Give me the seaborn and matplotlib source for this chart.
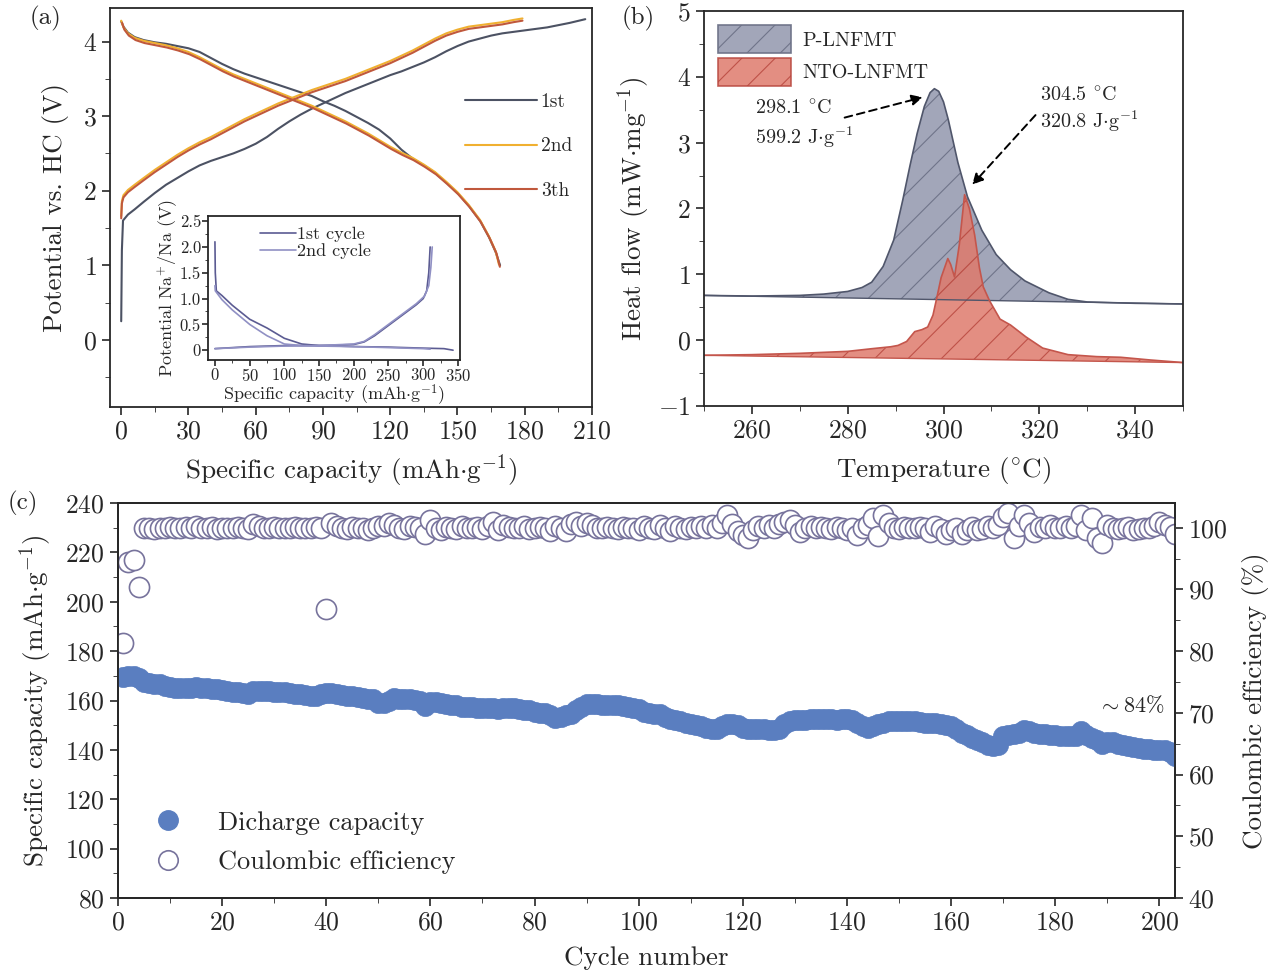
import numpy as np
import pandas as pd
import matplotlib
matplotlib.use("Agg")
import matplotlib.pyplot as plt
import matplotlib.patches as mpatches
from matplotlib.lines import Line2D
from matplotlib.ticker import MultipleLocator
import seaborn as sns

# ---------------- data: panel (a) charge / discharge ----------------
chg1_x = [0, 0.3, 0.8, 3, 6, 10, 15, 20, 25, 30, 35, 40, 45, 50, 55, 60, 65, 70, 75, 80, 85, 90, 95,
          100, 105, 110, 115, 120, 125, 130, 135, 140, 145, 150, 155, 160, 165, 170, 175, 180, 185,
          190, 195, 200, 207]
chg1_y = [0.25, 1.2, 1.6, 1.68, 1.75, 1.85, 1.97, 2.08, 2.17, 2.26, 2.34, 2.4, 2.45, 2.5, 2.56, 2.63,
          2.72, 2.83, 2.93, 3.02, 3.1, 3.17, 3.24, 3.31, 3.37, 3.43, 3.49, 3.55, 3.6, 3.66, 3.72,
          3.79, 3.87, 3.94, 4.0, 4.04, 4.08, 4.11, 4.13, 4.15, 4.17, 4.19, 4.22, 4.25, 4.3]
dis1_x = [0, 1, 3, 6, 10, 15, 20, 25, 30, 35, 40, 45, 50, 55, 60, 65, 70, 75, 80, 85, 90, 95, 100,
          105, 110, 115, 120, 125, 130, 135, 140, 145, 150, 155, 160, 164, 167, 169]
dis1_y = [4.27, 4.2, 4.12, 4.06, 4.02, 3.99, 3.97, 3.94, 3.91, 3.86, 3.78, 3.7, 3.63, 3.57, 3.52,
          3.47, 3.42, 3.37, 3.32, 3.27, 3.2, 3.14, 3.07, 2.99, 2.91, 2.82, 2.7, 2.55, 2.43, 2.34,
          2.24, 2.11, 1.97, 1.8, 1.6, 1.38, 1.18, 1.0]
chg2_x = [0, 0.3, 1, 3, 6, 10, 15, 20, 25, 30, 35, 40, 45, 50, 55, 60, 65, 70, 75, 80, 85, 90, 95,
          100, 105, 110, 115, 120, 125, 130, 135, 140, 145, 150, 155, 160, 165, 170, 175, 179]
chg2_y = [1.65, 1.85, 1.93, 2.0, 2.07, 2.16, 2.27, 2.37, 2.47, 2.56, 2.64, 2.71, 2.79, 2.87, 2.95,
          3.02, 3.09, 3.16, 3.22, 3.28, 3.34, 3.39, 3.44, 3.49, 3.55, 3.61, 3.67, 3.73, 3.8,
          3.87, 3.95, 4.03, 4.1, 4.15, 4.19, 4.21, 4.23, 4.25, 4.28, 4.3]
dis2_x = [0, 1, 3, 6, 10, 15, 20, 25, 30, 35, 40, 45, 50, 55, 60, 65, 70, 75, 80, 85, 90, 95, 100,
          105, 110, 115, 120, 125, 130, 135, 140, 145, 150, 155, 160, 164, 167, 168.5]
dis2_y = [4.27, 4.18, 4.1, 4.04, 4.0, 3.97, 3.94, 3.9, 3.85, 3.78, 3.7, 3.62, 3.55, 3.49, 3.43,
          3.37, 3.31, 3.25, 3.19, 3.13, 3.06, 2.99, 2.92, 2.84, 2.76, 2.67, 2.58, 2.5, 2.43, 2.34,
          2.24, 2.11, 1.97, 1.8, 1.6, 1.38, 1.18, 1.0]
cycle_labels = ["1st", "2nd", "3th"]
cycle_colors = ["#4c5263", "#f0b030", "#c0583c"]

# inset: half cell vs Na
ins_d1_x = [0, 0.5, 2, 10, 25, 50, 75, 100, 125, 150, 200, 250, 300, 330, 343]
ins_d1_y = [2.1, 1.5, 1.15, 1.06, 0.87, 0.6, 0.43, 0.23, 0.12, 0.09, 0.07, 0.06, 0.04, 0.03, 0.0]
ins_c1_x = [0, 50, 100, 150, 200, 215, 230, 250, 270, 290, 300, 305, 308, 310]
ins_c1_y = [0.03, 0.07, 0.09, 0.09, 0.11, 0.16, 0.28, 0.48, 0.68, 0.88, 1.0, 1.15, 1.5, 2.0]
ins_d2_x = [0, 0.5, 10, 25, 50, 75, 100, 125, 150, 200, 250, 300, 310]
ins_d2_y = [1.25, 1.15, 0.98, 0.78, 0.5, 0.28, 0.12, 0.09, 0.08, 0.07, 0.05, 0.03, 0.02]
ins_c2_x = [0, 50, 100, 150, 200, 215, 230, 250, 270, 290, 302, 308, 311, 313]
ins_c2_y = [0.03, 0.06, 0.08, 0.09, 0.12, 0.17, 0.3, 0.5, 0.7, 0.9, 1.05, 1.25, 1.6, 2.0]

# ---------------- data: panel (b) DSC ----------------
p_T = [250, 260, 270, 275, 280, 283, 285, 287.4, 289.6, 291.5, 293, 294.5, 296, 297.2, 298.1,
       299, 300, 301, 303, 305, 308, 311, 314, 317, 322, 326, 330, 340, 350]
p_H = [0.68, 0.67, 0.68, 0.7, 0.74, 0.8, 0.88, 1.12, 1.52, 2.13, 2.65, 3.14, 3.55, 3.76, 3.82,
       3.78, 3.62, 3.35, 2.7, 2.18, 1.67, 1.3, 1.07, 0.9, 0.72, 0.62, 0.58, 0.56, 0.55]
p_base_T = [250, 350]
p_base_H = [0.68, 0.55]
n_T = [250, 260, 270, 280, 285, 289, 290.5, 292.3, 294, 295.5, 296.7, 297.8, 298.5, 299.5, 300.9,
       301.5, 302.3, 303.3, 304.4, 305.4, 306.5, 307.5, 308.3, 309.6, 311.8, 314, 317.2, 320.7,
       326, 332, 337, 343, 350]
n_H = [-0.23, -0.22, -0.2, -0.17, -0.13, -0.1, -0.08, -0.02, 0.13, 0.16, 0.2, 0.38, 0.61, 0.95,
       1.24, 1.15, 0.96, 1.45, 2.21, 2.0, 1.6, 1.1, 0.81, 0.6, 0.32, 0.23, 0.05, -0.12, -0.22,
       -0.25, -0.26, -0.3, -0.34]
n_base_T = [250, 350]
n_base_H = [-0.23, -0.34]
dsc_labels = ["P-LNFMT", "NTO-LNFMT"]

# ---------------- data: panel (c) cycling ----------------
cap = [169.5, 170, 170, 169, 167.5, 167, 166.8, 166.5, 166, 165.5,
       165.2, 165, 165, 165.2, 165.3, 165.2, 165, 164.8, 164.5, 164.2,
       164, 163.6, 163.3, 163, 162.8, 164, 164, 164, 163.8, 163.6,
       163.5, 163.3, 163, 162.8, 162.5, 162.3, 162, 162, 162.5, 163,
       163, 162.6, 162.3, 162, 161.8, 161.5, 161, 160.8, 160.8, 159,
       159, 160, 161, 160.8, 160.5, 160.5, 160.2, 160, 157.8, 159.5,
       159.5, 159, 158.5, 158, 158, 157.5, 157.5, 157.3, 157, 157,
       156.8, 157, 156.5, 157, 156.8, 156.8, 156.5, 156.3, 156, 155.5,
       155, 154.8, 154, 153, 153.5, 154, 154.5, 156, 157.5, 158.5,
       158.5, 158.5, 158.3, 158.3, 158.2, 158, 157.8, 157.5, 157, 156.5,
       155.5, 155, 154.5, 154.5, 153.5, 152.5, 152, 151.5, 151, 150.5,
       150, 149.5, 149, 148.5, 148.5, 149.5, 150.5, 150.5, 150, 149,
       148.5, 148.5, 148.5, 148.3, 148, 148, 148.5, 150.5, 151.5, 152,
       152, 152.3, 152.5, 152.5, 152.5, 152.5, 152.5, 152.3, 152.5, 152.5,
       152, 151, 149.5, 149, 149.5, 150.5, 151, 151.5, 151.5, 151.5,
       151.5, 151.5, 151.5, 151.2, 151, 151, 151, 150.5, 150, 149.5,
       148.5, 147, 146, 145, 144, 143, 142, 141.5, 142, 145.5,
       146, 146.5, 147, 148, 147.5, 147, 146.5, 146.3, 146, 146,
       145.8, 145.8, 145.5, 145.5, 147.5, 146, 145, 144, 142.5, 143,
       143, 142.5, 142, 141.5, 141, 140.8, 140.5, 140.2, 140, 140,
       140, 139, 137.5]
ce = [81.3, 94.4, 94.8, 90.4, 99.9, 100.0, 99.8, 100.0, 99.9, 100.1,
      100.0, 99.9, 100.1, 100.0, 100.2, 99.9, 100.0, 100.1, 99.8, 100.0,
      99.9, 100.0, 100.1, 100.0, 99.8, 100.6, 100.2, 100.0, 99.9, 100.1,
      100.0, 99.9, 100.0, 100.1, 100.0, 99.9, 100.0, 100.1, 100.0, 86.8,
      100.8, 100.2, 100.0, 99.8, 100.1, 100.0, 99.9, 99.6, 100.0, 100.3,
      100.2, 100.7, 100.4, 100.0, 99.8, 100.3, 100.1, 100.0, 99.0, 101.2,
      100.0, 99.6, 100.1, 100.0, 99.8, 100.2, 100.0, 99.9, 100.1, 99.8,
      100.2, 100.9, 99.7, 100.4, 100.1, 99.9, 100.0, 100.2, 99.8, 100.0,
      100.1, 99.9, 99.5, 100.3, 100.0, 99.4, 100.6, 101.0, 100.3, 100.8,
      100.4, 100.0, 99.9, 100.1, 100.0, 99.8, 100.1, 99.9, 100.0, 99.6,
      100.2, 100.0, 99.8, 100.4, 99.9, 99.4, 100.3, 100.0, 99.8, 100.1,
      100.0, 100.2, 99.9, 100.4, 100.0, 100.8, 102.0, 100.6, 99.4, 98.8,
      98.4, 99.6, 100.3, 99.9, 100.5, 100.0, 100.6, 101.0, 101.2, 100.4,
      99.3, 100.0, 100.2, 99.9, 100.1, 100.0, 99.8, 100.1, 100.0, 99.6,
      99.9, 98.8, 100.0, 100.5, 101.6, 98.7, 102.0, 100.8, 100.0, 99.8,
      100.1, 100.0, 99.9, 100.1, 100.0, 99.3, 100.2, 99.8, 98.9, 99.6,
      100.0, 98.9, 99.7, 100.1, 99.6, 99.8, 100.3, 100.0, 100.5, 101.8,
      102.3, 98.4, 100.2, 102.0, 100.8, 99.3, 100.1, 99.9, 100.4, 100.0,
      99.9, 100.3, 100.0, 100.2, 102.0, 99.6, 101.5, 98.3, 97.6, 100.4,
      100.0, 99.8, 100.0, 100.1, 99.7, 99.8, 100.0, 99.9, 100.2, 100.9,
      100.4, 100.1, 99.0]
cycles = list(range(1, len(cap) + 1))

# ---------------- style ----------------
sns.set_style("ticks")
plt.rcParams['font.family'] = ['cmr10', 'DejaVu Serif']
plt.rcParams['mathtext.fontset'] = 'cm'
plt.rcParams['axes.formatter.use_mathtext'] = True
plt.rcParams['axes.unicode_minus'] = True
plt.rcParams['axes.linewidth'] = 1.3
plt.rcParams['xtick.major.size'] = 6
plt.rcParams['ytick.major.size'] = 6
plt.rcParams['xtick.minor.size'] = 3.5
plt.rcParams['ytick.minor.size'] = 3.5
plt.rcParams['xtick.major.width'] = 1.2
plt.rcParams['ytick.major.width'] = 1.2
plt.rcParams['hatch.linewidth'] = 0.8

fig = plt.figure(figsize=(12.68, 9.74), dpi=100)
W, H = 1268, 974
TICK = 18.5
LAB = 19.5


def px_axes(l, t, r, b):
    return fig.add_axes([l / W, 1 - b / H, (r - l) / W, (b - t) / H])


# ---------------- panel (a) ----------------
ax_a = px_axes(110, 8, 592, 407)
curves = [(chg1_x, chg1_y, dis1_x, dis1_y, 0.0, 0.0),
          (chg2_x, chg2_y, dis2_x, dis2_y, 0.01, 0.0),
          (chg2_x, chg2_y, dis2_x, dis2_y, -0.02, 0.4)]
for (cx, cy, dx, dy, dyo, dxo), lab, col in zip(curves, cycle_labels, cycle_colors):
    sns.lineplot(x=np.array(cx), y=np.array(cy) + dyo, sort=False, ax=ax_a,
                 color=col, lw=1.5, label=lab)
    sns.lineplot(x=np.array(dx) + dxo, y=np.array(dy) + dyo, sort=False, ax=ax_a,
                 color=col, lw=1.5)
ax_a.set_xlim(-5, 210)
ax_a.set_ylim(-0.9, 4.45)
ax_a.set_xticks(range(0, 211, 30))
ax_a.set_yticks(range(0, 5))
ax_a.xaxis.set_minor_locator(MultipleLocator(15))
ax_a.yaxis.set_minor_locator(MultipleLocator(0.5))
ax_a.tick_params(labelsize=TICK)
ax_a.set_xlabel(r"Specific capacity (mAh$\cdot$g$^{-1}$)", fontsize=LAB, labelpad=6)
ax_a.set_ylabel("Potential vs. HC (V)", fontsize=LAB, labelpad=10)
ax_a.legend(loc="upper left", bbox_to_anchor=(0.7, 0.83), frameon=False, fontsize=14,
            handlelength=3.7, labelspacing=1.35, handletextpad=0.2)

# inset
ax_i = px_axes(208, 216, 460, 360)
ins_cols = ["#5b5b92", "#9090c4"]
sns.lineplot(x=ins_d1_x, y=ins_d1_y, sort=False, ax=ax_i, color=ins_cols[0], lw=1.2,
             label="1st cycle")
sns.lineplot(x=ins_c1_x, y=ins_c1_y, sort=False, ax=ax_i, color=ins_cols[0], lw=1.2)
sns.lineplot(x=ins_d2_x, y=ins_d2_y, sort=False, ax=ax_i, color=ins_cols[1], lw=1.2,
             label="2nd cycle")
sns.lineplot(x=ins_c2_x, y=ins_c2_y, sort=False, ax=ax_i, color=ins_cols[1], lw=1.2)
ax_i.set_xlim(-10, 353)
ax_i.set_ylim(-0.19, 2.6)
ax_i.set_xticks(range(0, 351, 50))
ax_i.set_yticks([0, 0.5, 1.0, 1.5, 2.0, 2.5], labels=["0", "0.5", "1.0", "1.5", "2.0", "2.5"])
ax_i.xaxis.set_minor_locator(MultipleLocator(25))
ax_i.yaxis.set_minor_locator(MultipleLocator(0.25))
ax_i.tick_params(labelsize=12, pad=1)
ax_i.tick_params(which="major", length=4)
ax_i.tick_params(which="minor", length=2.5)
ax_i.set_xlabel(r"Specific capacity (mAh$\cdot$g$^{-1}$)", fontsize=13, labelpad=-1)
ax_i.set_ylabel(r"Potential Na$^{+}$/Na (V)", fontsize=13, labelpad=0)
ax_i.legend(loc="upper left", bbox_to_anchor=(0.14, 1.04), frameon=False, fontsize=13,
            handlelength=2.0, labelspacing=0.05, handletextpad=0.1)

# ---------------- panel (b) ----------------
ax_b = px_axes(704, 11, 1183, 406)
fills = [("#9da1b6", "#50566b", "#6d7287", p_T, p_H, p_base_T, p_base_H, 0.95),
         ("#df7a6c", "#c4564c", "#b8473e", n_T, n_H, n_base_T, n_base_H, 0.85)]
handles_b = []
for (fc, ec, hc, T, Hf, bT, bH, al), lab in zip(fills, dsc_labels):
    base = np.interp(T, bT, bH)
    ax_b.fill_between(T, Hf, base, facecolor=fc, edgecolor=hc, hatch="/", linewidth=0,
                      alpha=al)
    sns.lineplot(x=T, y=Hf, sort=False, ax=ax_b, color=ec, lw=1.2)
    sns.lineplot(x=bT, y=bH, sort=False, ax=ax_b, color=ec, lw=1.0)
    handles_b.append(mpatches.Patch(facecolor=fc, edgecolor=hc, hatch="/", alpha=al,
                                    label=lab, linewidth=1.2))
ax_b.set_xlim(250, 350)
ax_b.set_ylim(-1, 5)
ax_b.set_xticks(range(260, 341, 20))
ax_b.set_yticks(range(-1, 6))
ax_b.xaxis.set_minor_locator(MultipleLocator(10))
ax_b.yaxis.set_minor_locator(MultipleLocator(0.5))
ax_b.tick_params(labelsize=TICK)
ax_b.set_xlabel(r"Temperature ($^{\circ}$C)", fontsize=LAB, labelpad=9)
ax_b.set_ylabel(r"Heat flow (mW$\cdot$mg$^{-1}$)", fontsize=LAB)
ax_b.legend(handles=handles_b, loc="upper left", bbox_to_anchor=(0.0, 1.0), frameon=False,
            fontsize=14.5, handlelength=3.6, handleheight=1.75, labelspacing=0.25,
            handletextpad=0.6, borderaxespad=0.3)
ax_b.text(260.6, 3.28, "298.1 $^{\\circ}$C\n599.2 J$\\cdot$g$^{-1}$", fontsize=14.5,
          va="center", ha="left", linespacing=1.35)
ax_b.annotate("", xy=(296.2, 3.7), xytext=(278.8, 3.37),
              arrowprops=dict(arrowstyle="-|>", ls=(0, (4, 2.5)), lw=1.4, color="black",
                              mutation_scale=16))
ax_b.text(320.2, 3.5, "304.5 $^{\\circ}$C\n320.8 J$\\cdot$g$^{-1}$", fontsize=14.5,
          va="center", ha="left", linespacing=1.2)
ax_b.annotate("", xy=(305.6, 2.33), xytext=(319.6, 3.45),
              arrowprops=dict(arrowstyle="-|>", ls=(0, (4, 2.5)), lw=1.4, color="black",
                              mutation_scale=16))

# ---------------- panel (c) ----------------
ax_c = px_axes(118, 503, 1175, 898)
ax_r = ax_c.twinx()
df_c = pd.DataFrame({"cycle": cycles, "cap": cap, "ce": ce})
cap_col = "#5a7ec0"
ce_col = "#77739c"
sns.scatterplot(data=df_c, x="cycle", y="ce", ax=ax_r, s=210, facecolor="white",
                edgecolor=ce_col, linewidth=1.2, zorder=2)
sns.scatterplot(data=df_c, x="cycle", y="cap", ax=ax_c, s=210, color=cap_col,
                edgecolor=cap_col, linewidth=0.5, zorder=3)
ax_c.set_xlim(0, 203)
ax_c.set_ylim(80, 240)
ax_r.set_ylim(40, 104)
ax_c.set_xticks(range(0, 201, 20))
ax_c.set_yticks(range(80, 241, 20))
ax_r.set_yticks(range(40, 101, 10))
ax_c.xaxis.set_minor_locator(MultipleLocator(10))
ax_c.yaxis.set_minor_locator(MultipleLocator(10))
ax_r.yaxis.set_minor_locator(MultipleLocator(5))
ax_c.tick_params(labelsize=TICK)
ax_r.tick_params(labelsize=TICK)
ax_c.set_xlabel("Cycle number", fontsize=LAB, labelpad=8)
ax_c.set_ylabel(r"Specific capacity (mAh$\cdot$g$^{-1}$)", fontsize=LAB, labelpad=8)
ax_r.set_ylabel("Coulombic efficiency (%)", fontsize=LAB, labelpad=10)
ax_c.text(188.2, 158, r"$\sim$84%", fontsize=16, ha="left", va="center")
leg_h = [Line2D([], [], ls="", marker="o", ms=14, color=cap_col, label="Dicharge capacity"),
         Line2D([], [], ls="", marker="o", ms=14, mfc="white", mec=ce_col, mew=1.2,
                label="Coulombic efficiency")]
ax_c.legend(handles=leg_h, loc="lower left", bbox_to_anchor=(0.0, 0.0), frameon=False,
            fontsize=19, handletextpad=0.9, labelspacing=0.6)

# panel letters
fig.text(30 / W, 1 - 18 / H, "(a)", fontsize=18, ha="left", va="center")
fig.text(622 / W, 1 - 18 / H, "(b)", fontsize=18, ha="left", va="center")
fig.text(8 / W, 1 - 503 / H, "(c)", fontsize=18, ha="left", va="center")

fig.savefig("out.png", dpi=100)
